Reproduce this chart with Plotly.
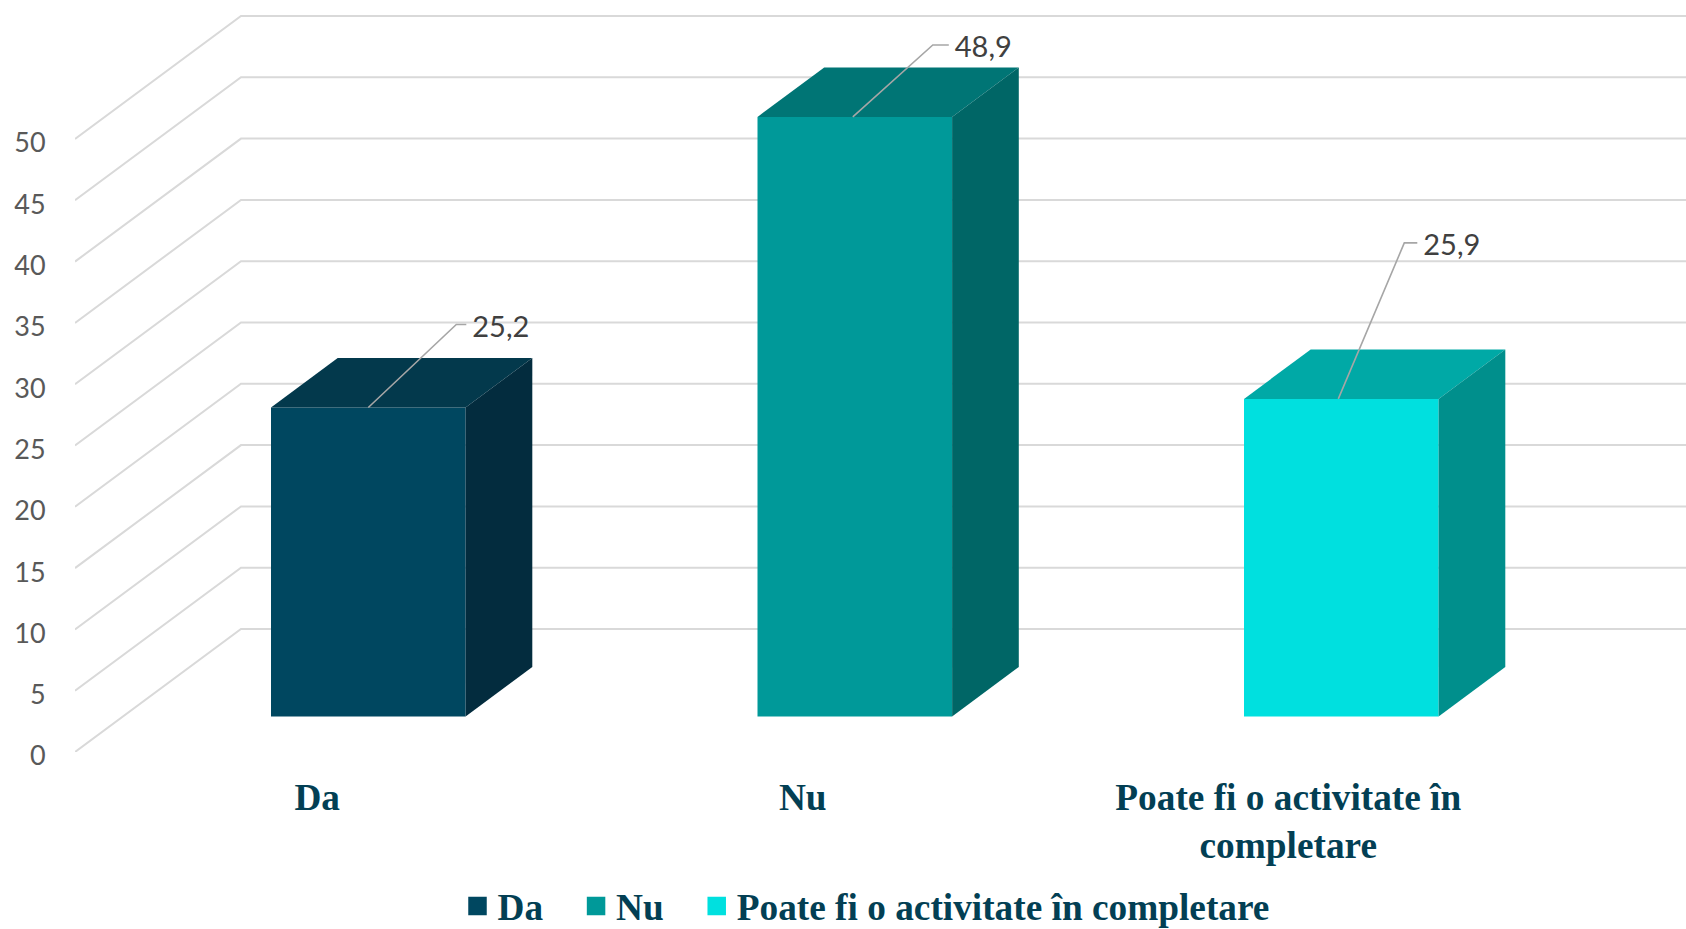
import plotly.graph_objects as go

categories = ["Da", "Nu", "Poate fi o activitate în completare"]
legend_labels = ["Da\u00a0\u00a0\u00a0", "Nu\u00a0\u00a0\u00a0", "Poate fi o activitate în completare"]
tick_labels = ["Da", "Nu", "Poate fi o activitate în<br>completare"]
values = [25.2, 48.9, 25.9]
y_ticks = [0, 5, 10, 15, 20, 25, 30, 35, 40, 45, 50]

front_colors = ["#004760", "#009999", "#00E0DF"]
top_colors = ["#03394C", "#007575", "#00A9A6"]
side_colors = ["#032C3E", "#006666", "#008F8C"]

W, H = 1686, 929
PX_X = 486.5             # pixels per category
PX_Y = 12.26             # pixels per value unit
LEFT, BOTTOM = 75, 177
ORIGIN = 368.3           # centre of the first category
X_RANGE = [(LEFT - ORIGIN) / PX_X, (W - ORIGIN) / PX_X]
Y_RANGE = [0, (H - BOTTOM) / PX_Y]

WALL_DX, WALL_DY = 166 / PX_X, 123 / PX_Y
BAR_W = 194.6 / PX_X
BAR_DX, BAR_DY = 66.7 / PX_X, 49.5 / PX_Y
BAR_BASE = 2.9
LABEL_SHIFT = -0.105
LABEL_STEP = 0.998

# leader line points, (dx, dy) in pixels from the top-centre of the front face
leaders = [[(0, 0), (88, 83), (98, 83)],
           [(-2, 0), (78, 72), (94, 72)],
           [(-3, 0), (63, 156), (76, 156)]]
LABEL_GAP, LABEL_DROP = 6, 5

fig = go.Figure()

# floor/wall gridlines
for t in y_ticks:
    fig.add_trace(go.Scatter(
        x=[X_RANGE[0], X_RANGE[0] + WALL_DX, X_RANGE[1]],
        y=[t, t + WALL_DY, t + WALL_DY],
        mode="lines", line=dict(color="#D9D9D9", width=2),
        showlegend=False, hoverinfo="skip", xaxis="x", yaxis="y"))

# bars: front faces
for i, (c, v) in enumerate(zip(categories, values)):
    fig.add_trace(go.Bar(
        x=[i], y=[v], base=BAR_BASE, width=BAR_W, name=c,
        marker=dict(color=front_colors[i], line=dict(width=0)),
        showlegend=False, xaxis="x2", yaxis="y2"))

# bars: top and side faces
for i, v in enumerate(values):
    l, r = i - BAR_W / 2, i + BAR_W / 2
    top = BAR_BASE + v
    fig.add_trace(go.Scatter(
        x=[l, r, r + BAR_DX, l + BAR_DX, l],
        y=[top, top, top + BAR_DY, top + BAR_DY, top],
        fill="toself", fillcolor=top_colors[i], mode="none",
        showlegend=False, hoverinfo="skip", xaxis="x2", yaxis="y2"))
    fig.add_trace(go.Scatter(
        x=[r, r + BAR_DX, r + BAR_DX, r, r],
        y=[BAR_BASE, BAR_BASE + BAR_DY, top + BAR_DY, top, BAR_BASE],
        fill="toself", fillcolor=side_colors[i], mode="none",
        showlegend=False, hoverinfo="skip", xaxis="x2", yaxis="y2"))

# data labels with leader lines
for i, v in enumerate(values):
    top = BAR_BASE + v
    xs = [i + dx / PX_X for dx, _ in leaders[i]]
    ys = [top + dy / PX_Y for _, dy in leaders[i]]
    fig.add_trace(go.Scatter(
        x=xs, y=ys, mode="lines", line=dict(color="#A6A6A6", width=1.6),
        showlegend=False, hoverinfo="skip", xaxis="x2", yaxis="y2"))
    fig.add_trace(go.Scatter(
        x=[xs[-1] + LABEL_GAP / PX_X], y=[ys[-1] - LABEL_DROP / PX_Y], mode="text",
        text=[f"{v:.1f}".replace(".", ",")], textposition="middle right",
        textfont=dict(family="Lato", size=29, color="#404040"),
        showlegend=False, hoverinfo="skip", xaxis="x2", yaxis="y2"))

# legend entries
for i, c in enumerate(legend_labels):
    fig.add_trace(go.Scatter(
        x=[None], y=[None], mode="markers", name=c,
        marker=dict(symbol="square", size=16, color=front_colors[i],
                    line=dict(color=front_colors[i], width=2.5)),
        xaxis="x2", yaxis="y2"))

fig.update_layout(
    width=W, height=H,
    autosize=False,
    margin=dict(l=LEFT, r=0, t=0, b=BOTTOM, autoexpand=False),
    paper_bgcolor="white", plot_bgcolor="white",
    barmode="overlay",
    showlegend=True,
    legend=dict(orientation="h", x=0.491, xanchor="center", xref="paper",
                y=-0.205, yanchor="middle", yref="paper",
                itemwidth=30, traceorder="normal",
                font=dict(family="Liberation Serif", size=37.3, color="#033F54", weight="bold")),
    xaxis=dict(range=X_RANGE, showgrid=False, zeroline=False, showline=False,
               tickmode="array",
               tickvals=[i * LABEL_STEP + LABEL_SHIFT for i in range(len(categories))],
               ticktext=[f"<b>{t}</b>" for t in tick_labels],
               ticks="outside", ticklen=12, tickcolor="rgba(0,0,0,0)",
               tickangle=0,
               tickfont=dict(family="Liberation Serif", size=37.3, color="#033F54")),
    yaxis=dict(range=Y_RANGE, showgrid=False, zeroline=False, showline=False,
               tickmode="array", tickvals=y_ticks,
               ticks="outside", ticklen=23, tickcolor="rgba(0,0,0,0)",
               ticklabelshift=4,
               tickfont=dict(family="Lato", size=27, color="#595959")),
    xaxis2=dict(range=X_RANGE, overlaying="x", visible=False),
    yaxis2=dict(range=Y_RANGE, overlaying="y", visible=False),
)

fig.write_html("out.html", config={"responsive": False, "displayModeBar": False},
               post_script="document.body.style.margin='0';")
